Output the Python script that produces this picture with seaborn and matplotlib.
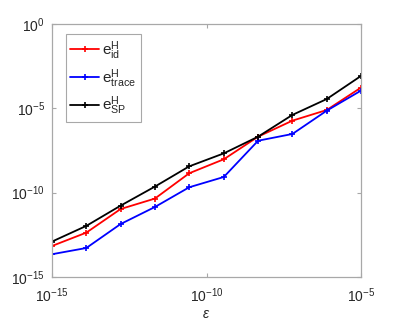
import numpy as np
import pandas as pd
import seaborn as sns
import matplotlib
matplotlib.use("Agg")
import matplotlib.pyplot as plt
from matplotlib.ticker import FixedLocator, FixedFormatter, NullLocator

# Data
eps_exp = [-15.0, -13.89, -12.78, -11.67, -10.56, -9.44, -8.33, -7.22, -6.11, -5.0]
log_e_id = [-13.16, -12.37, -10.97, -10.35, -8.85, -8.02, -6.68, -5.73, -5.10, -3.77]
log_e_trace = [-13.65, -13.28, -11.86, -10.85, -9.68, -9.07, -6.92, -6.52, -5.14, -3.95]
log_e_sp = [-12.90, -11.97, -10.77, -9.64, -8.44, -7.67, -6.68, -5.39, -4.45, -3.08]
series_names = [r'$\mathregular{e^{H}_{id}}$', r'$\mathregular{e^{H}_{trace}}$', r'$\mathregular{e^{H}_{SP}}$']
series_colors = ['#ff0000', '#0000ff', '#000000']
tick_exps = [-15, -10, -5]
ytick_exps = [-15, -10, -5, 0]

sns.set_style('white')
plt.rcParams['font.family'] = ['Liberation Sans', 'DejaVu Sans']
plt.rcParams['mathtext.fontset'] = 'custom'
plt.rcParams['mathtext.rm'] = 'Liberation Sans'
plt.rcParams['mathtext.it'] = 'Liberation Sans:italic'

fig = plt.figure(figsize=(3.99, 3.23), dpi=100)
ax = fig.add_axes([52 / 399, 46 / 323, 309 / 399, 253 / 323])

for name, vals, col in zip(series_names, [log_e_id, log_e_trace, log_e_sp], series_colors):
    sub = pd.DataFrame({'eps': [10.0 ** e for e in eps_exp],
                        'err': [10.0 ** v for v in vals]})
    sns.lineplot(data=sub, x='eps', y='err', color=col, marker='+', markersize=5,
                 markeredgewidth=1.2, markeredgecolor=col, linewidth=1.3,
                 ax=ax, label=name)

ax.set_xscale('log')
ax.set_yscale('log')
ax.set_xlim(1e-15, 1e-5)
ax.set_ylim(1e-15, 1e0)

ax.xaxis.set_major_locator(FixedLocator([10.0 ** e for e in tick_exps]))
ax.xaxis.set_major_formatter(FixedFormatter([r'$\mathregular{10^{%d}}$' % e for e in tick_exps]))
ax.yaxis.set_major_locator(FixedLocator([10.0 ** e for e in ytick_exps]))
ax.yaxis.set_major_formatter(FixedFormatter([r'$\mathregular{10^{%d}}$' % e for e in ytick_exps]))
ax.xaxis.set_minor_locator(NullLocator())
ax.yaxis.set_minor_locator(NullLocator())

axis_gray = '#a8a8a8'
for sp in ax.spines.values():
    sp.set_color(axis_gray)
    sp.set_linewidth(0.9)
    sp.set_visible(True)
ax.tick_params(which='major', direction='in', length=3, width=0.8, color=axis_gray,
               top=True, right=True, bottom=True, left=True,
               labelsize=10, labelcolor='#262626')
ax.tick_params(axis='x', pad=7)
ax.tick_params(axis='y', pad=5)

ax.set_xlabel(r'$\epsilon$', fontsize=10, color='#262626', labelpad=1)
ax.set_ylabel('')

leg = ax.legend(loc='upper left', bbox_to_anchor=(0.044, 0.959), borderaxespad=0,
                fancybox=False, framealpha=1, edgecolor=axis_gray, fontsize=11,
                handlelength=1.9, handletextpad=0.2, labelspacing=0.35,
                borderpad=0.3, numpoints=1)
leg.get_frame().set_linewidth(0.8)

fig.savefig('out.png', dpi=100)
